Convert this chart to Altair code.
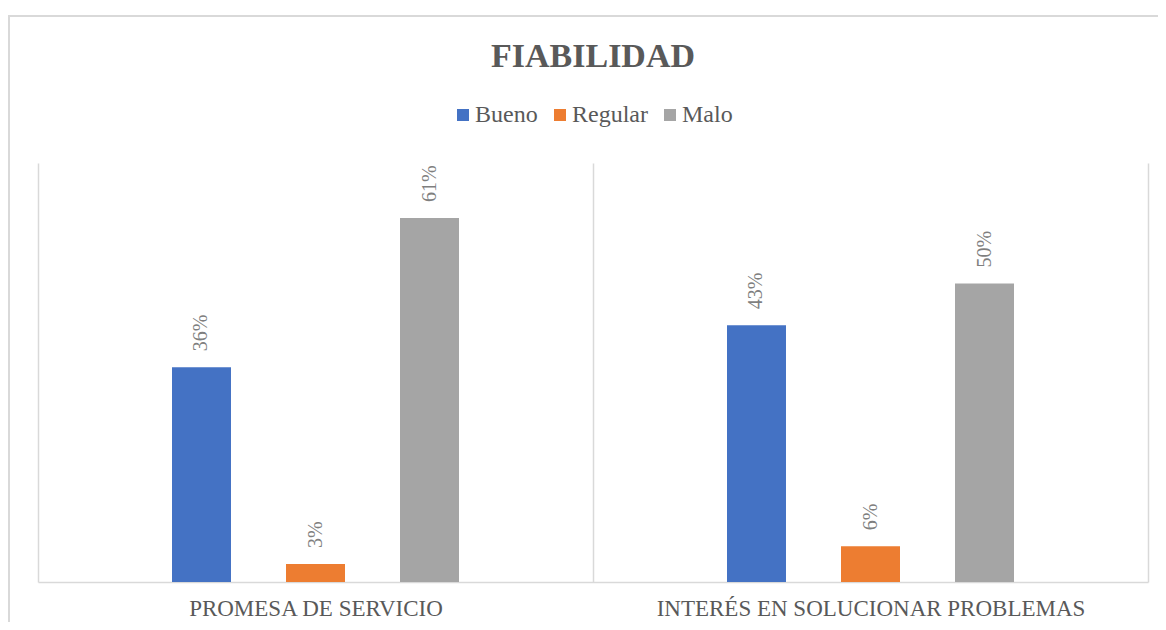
import altair as alt
import pandas as pd

categories = ["PROMESA DE SERVICIO", "INTERÉS EN SOLUCIONAR PROBLEMAS"]
series = ["Bueno", "Regular", "Malo"]
bueno = [0.36, 0.43]
regular = [0.03, 0.06]
malo = [0.61, 0.50]
colors = ["#4472C4", "#ED7D31", "#A5A5A5"]

rows = []
for s, vals in zip(series, [bueno, regular, malo]):
    for c, v in zip(categories, vals):
        rows.append({"categoria": c, "serie": s, "valor": v})
df = pd.DataFrame(rows)

FONT = "Liberation Serif"

base = alt.Chart(df).encode(
    x=alt.X(
        "categoria:N",
        sort=categories,
        scale=alt.Scale(paddingInner=0, paddingOuter=0),
        axis=alt.Axis(
            title=None, labelAngle=0, labelFont=FONT, labelFontSize=23,
            labelColor="#595959", labelPadding=15, labelLimit=0, ticks=False,
            domainColor="#d9d9d9", domainWidth=1.5,
            grid=True, gridColor="#d9d9d9", gridWidth=1.5, tickBand="extent",
        ),
    ),
    xOffset=alt.XOffset("serie:N", sort=series,
                        scale=alt.Scale(range=[134, 421], paddingInner=0.4825, paddingOuter=0)),
    y=alt.Y("valor:Q", scale=alt.Scale(domain=[0, 0.702]), axis=None),
)

bars = base.mark_bar().encode(
    color=alt.Color(
        "serie:N", sort=series,
        scale=alt.Scale(domain=series, range=colors),
        legend=alt.Legend(
            title=None, orient="none", legendX=413, legendY=-60,
            direction="horizontal", symbolType="square", symbolSize=144,
            symbolStrokeWidth=0, labelFont=FONT, labelFontSize=24,
            labelColor="#595959", columnPadding=10, labelOffset=0,
        ),
    )
)

labels = base.mark_text(
    angle=270, align="left", baseline="middle", dx=16,
    font=FONT, fontSize=20, color="#7f7f7f",
).encode(text=alt.Text("valor:Q", format=".0%"))

border = alt.Chart(alt.Data(values=[{}])).mark_rect(
    filled=False, color="#d9d9d9", strokeWidth=2
).encode(
    x=alt.value(-29), y=alt.value(-147), x2=alt.value(1300), y2=alt.value(800)
)

chart = alt.layer(border, bars, labels).properties(
    width=1110,
    height=419,
    background="white",
    autosize=alt.AutoSizeParams(type="none"),
    padding={"left": 30, "top": 155, "right": 10, "bottom": 40},
    title=alt.TitleParams(
        "FIABILIDAD", font=FONT, fontSize=34, fontWeight="bold",
        color="#595959", anchor="middle", baseline="alphabetic", offset=-86,
    ),
).configure_view(stroke="transparent")

chart.save("out.html", embed_options={"renderer": "svg", "actions": False})
